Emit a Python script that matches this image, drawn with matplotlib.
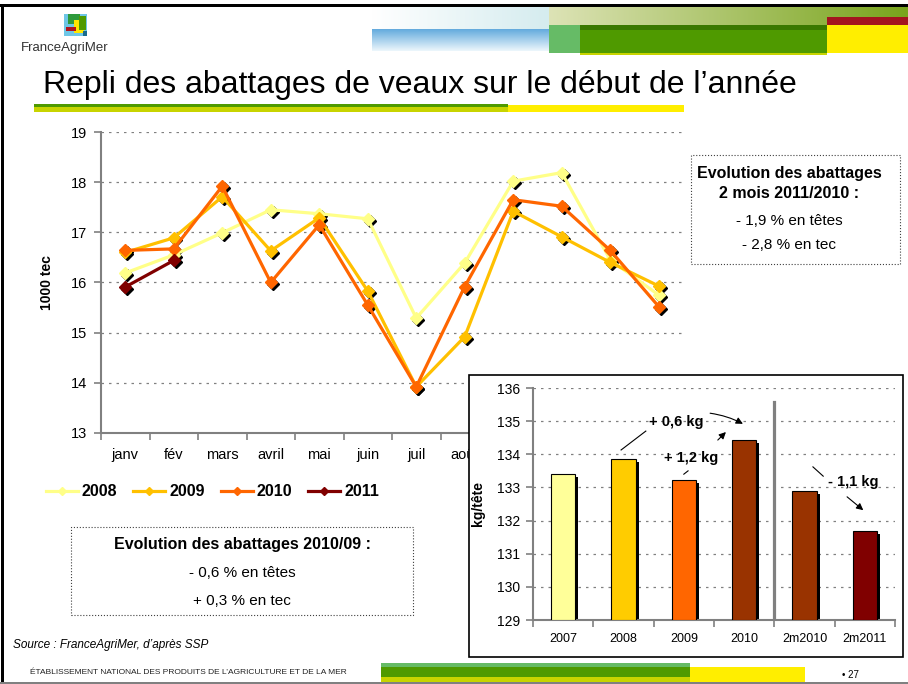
import numpy as np
import matplotlib
matplotlib.use('Agg')
import matplotlib.pyplot as plt
from matplotlib.patches import Rectangle
from matplotlib.colors import LinearSegmentedColormap
from matplotlib.transforms import offset_copy

plt.rcParams['font.family'] = ['Liberation Sans', 'DejaVu Sans']

# données
mois = ['janv', 'fév', 'mars', 'avril', 'mai', 'juin', 'juil', 'août', 'sept', 'oct', 'nov', 'déc']
v2008 = [16.19, 16.55, 16.99, 17.45, 17.37, 17.27, 15.29, 16.39, 18.02, 18.19, 16.45, 15.75]
v2009 = [16.60, 16.89, 17.71, 16.63, 17.29, 15.83, 13.92, 14.92, 17.42, 16.91, 16.40, 15.93]
v2010 = [16.64, 16.67, 17.92, 16.00, 17.15, 15.55, 13.92, 15.92, 17.65, 17.52, 16.64, 15.52]
v2011 = [15.91, 16.44]
series = [('2008', v2008, '#FFFF88'), ('2009', v2009, '#FFC000'),
          ('2010', v2010, '#FF6600'), ('2011', v2011, '#800000')]

periodes = ['2007', '2008', '2009', '2010', '2m2010', '2m2011']
poids = [133.41, 133.86, 133.21, 134.43, 132.90, 131.69]
couleurs_barres = ['#FFFF99', '#FFCC00', '#FF6600', '#993300', '#993300', '#800000']

W, H = 908, 684
fig = plt.figure(figsize=(W / 100, H / 100), dpi=100)


def rect(x0, y0, x1, y1, color, z=1, **kw):
    fig.patches.append(Rectangle((x0 / W, 1 - y1 / H), (x1 - x0) / W, (y1 - y0) / H,
                                 transform=fig.transFigure, facecolor=color,
                                 edgecolor=kw.pop('ec', 'none'), zorder=z, **kw))


def grad(x0, y0, x1, y1, c0, c1, vertical=False):
    a = fig.add_axes([x0 / W, 1 - y1 / H, (x1 - x0) / W, (y1 - y0) / H])
    g = np.linspace(0, 1, 256)
    g = g[:, None] if vertical else g[None, :]
    a.imshow(g, aspect='auto', cmap=LinearSegmentedColormap.from_list('g', [c0, c1]))
    a.axis('off')


# cadre et bandeau
rect(0, 4, W, 7, 'black')
rect(1, 4, 4, H, 'black')
rect(0, 682, W, H, '#808080')
grad(372, 7, 549, 29, '#ffffff', '#d5ecef')
grad(372, 29, 549, 51, '#62aadd', '#eef7fc', vertical=True)
grad(549, 7, W, 25, '#dde3b6', '#78a41c')
rect(827, 17, W, 25, '#a3151f')
rect(549, 25, 580, 53, '#66bb66')
rect(580, 25, 827, 54, '#4f9a00')
rect(580, 25, 827, 30, '#3a7800')
rect(580, 53, 827, 55, '#c8d400')
rect(827, 25, W, 53, '#ffee00')

# logo
rect(64, 14, 87, 36, '#6ec6e6')
rect(68, 14, 80, 24, '#2e9a3c')
rect(74, 20, 84, 33, '#ffe600')
rect(66, 27, 76, 31, '#b0141e')
rect(79, 16, 86, 30, '#4f9a00')
rect(83, 31, 87, 36, '#1a6b8c')
fig.text(21 / W, 1 - 48 / H, 'FranceAgriMer', fontsize=9.5, color='#333333', va='center')

# titre
fig.text(43 / W, 1 - 85 / H, 'Repli des abattages de veaux sur le début de l\u2019année',
         fontsize=23, va='center')
rect(34, 104, 508, 107, '#4f9a00')
rect(34, 107, 508, 112, '#c8d400')
rect(508, 105, 684, 112, '#ffee00')

# graphique principal
ax = fig.add_axes([101 / W, 1 - 433 / H, 582 / W, 301 / H])
x = np.arange(len(mois))
ombre = offset_copy(ax.transData, fig=fig, x=2, y=-2, units='dots')
courbes = []
for nom, vals, col in series:
    xs = x[:len(vals)]
    ax.plot(xs, vals, ls='none', marker='D', ms=6, color='black', transform=ombre, zorder=3)
    ln, = ax.plot(xs, vals, color=col, lw=2.3, marker='D', ms=6, mec=col, label=nom, zorder=4)
    courbes.append(ln)

ax.set_xlim(-0.5, 11.5)
ax.set_ylim(13, 19)
ax.set_yticks(range(13, 20))
ax.set_xticks(x)
ax.set_xticklabels(mois)
# les mois de sept à déc sont masqués par l'encart
for lab in ax.get_xticklabels()[8:]:
    lab.set_visible(False)
ax.set_xticks(np.arange(-0.5, 12), minor=True)
ax.tick_params(axis='x', which='major', length=0, pad=11, labelsize=10.5)
ax.tick_params(axis='x', which='minor', length=5, color='#808080', width=1.2)
ax.tick_params(axis='y', length=5, color='#808080', width=1.2, pad=5, labelsize=10.5)
for y in range(14, 20):
    ax.axhline(y, color='#808080', lw=0.9, ls=(0, (2, 4)), zorder=1)
for s in ['top', 'right']:
    ax.spines[s].set_visible(False)
for s in ['left', 'bottom']:
    ax.spines[s].set_color('#808080')
    ax.spines[s].set_linewidth(1.5)
ax.set_ylabel('1000 tec', fontsize=10, fontweight='bold')
ax.yaxis.set_label_coords((54 - 101) / 582, 0.5)

fig.legend(handles=courbes, loc='center left',
           bbox_to_anchor=(46 / W, 1 - 492 / H), ncol=4, frameon=False,
           prop={'weight': 'bold', 'size': 11.5}, handlelength=2.0,
           handletextpad=0.25, columnspacing=1.0, borderpad=0, borderaxespad=0,
           markerscale=0.7)

# encadrés texte
rect(71, 527, 413, 615, 'none', z=3, ec='#404040', lw=0.8, ls=':')
fig.text(242 / W, 1 - 544 / H, 'Evolution des abattages 2010/09 :', fontsize=11.5,
         fontweight='bold', ha='center', va='center')
fig.text(242 / W, 1 - 573 / H, '- 0,6 % en têtes', fontsize=11, ha='center', va='center')
fig.text(242 / W, 1 - 601 / H, '+ 0,3 % en tec', fontsize=11, ha='center', va='center')

rect(691, 155, 900, 264, 'none', z=3, ec='#404040', lw=0.8, ls=':')
fig.text(789 / W, 1 - 173 / H, 'Evolution des abattages', fontsize=11.5,
         fontweight='bold', ha='center', va='center')
fig.text(789 / W, 1 - 193 / H, '2 mois 2011/2010 :', fontsize=11.5,
         fontweight='bold', ha='center', va='center')
fig.text(789 / W, 1 - 221 / H, '- 1,9 % en têtes', fontsize=11, ha='center', va='center')
fig.text(789 / W, 1 - 245 / H, '- 2,8 % en tec', fontsize=11, ha='center', va='center')

fig.text(13 / W, 1 - 645 / H, 'Source : FranceAgriMer, d\u2019après SSP', fontsize=8.5,
         style='italic', va='center')

# encart poids moyen
rect(469, 375, 903, 657, 'white', z=1.5, ec='black', lw=1.2)
ai = fig.add_axes([533 / W, 1 - 620 / H, 362 / W, 232 / H], zorder=2)
ai.patch.set_alpha(0)
xb = np.arange(len(periodes))
ombre_b = offset_copy(ai.transData, fig=fig, x=3, y=-3, units='dots')
ai.bar(xb, np.array(poids) - 129, bottom=129, width=0.4, color='black',
       transform=ombre_b, zorder=2)
ai.bar(xb, np.array(poids) - 129, bottom=129, width=0.4, color=couleurs_barres,
       edgecolor='black', lw=0.8, zorder=3)
ai.set_xlim(-0.5, 5.5)
ai.set_ylim(129, 136)
ai.set_yticks(range(129, 137))
ai.set_xticks(xb)
ai.set_xticklabels(periodes)
ai.set_xticks(np.arange(-0.5, 6), minor=True)
ai.tick_params(axis='x', which='major', length=0, pad=9, labelsize=9)
ai.tick_params(axis='x', which='minor', length=5, color='#808080', width=1.2)
ai.tick_params(axis='y', length=5, color='#808080', width=1.2, pad=4, labelsize=10)
for y in range(130, 137):
    ai.axhline(y, color='#808080', lw=0.9, ls=(0, (2, 4)), zorder=1)
ai.axvline(3.5, ymax=(135.58 - 129) / 7, color='#808080', lw=2.3, zorder=1)
for s in ['top', 'right']:
    ai.spines[s].set_visible(False)
for s in ['left', 'bottom']:
    ai.spines[s].set_color('#808080')
    ai.spines[s].set_linewidth(1.5)
ai.set_ylabel('kg/tête', fontsize=10, fontweight='bold')
ai.yaxis.set_label_coords((485 - 533) / 362, 0.5)

fk = dict(fontsize=10.5, fontweight='bold', ha='center', va='center')
ai.text(1.87, 134.97, '+ 0,6 kg', **fk)
ai.text(2.12, 133.89, '+ 1,2 kg', **fk)
ai.text(4.81, 133.16, '- 1,1 kg', **fk)
ai.plot([0.96, 1.37], [134.13, 134.70], color='black', lw=0.8)
ai.plot([2.00, 2.07], [133.40, 133.50], color='black', lw=0.8)
ai.plot([4.14, 4.31], [133.62, 133.34], color='black', lw=0.8)
fl = dict(arrowstyle='-|>', color='black', lw=0.8, mutation_scale=10)
ai.annotate('', xy=(3.02, 134.88), xytext=(2.39, 135.25),
            arrowprops=dict(connectionstyle='arc3,rad=-0.1', **fl))
ai.annotate('', xy=(2.73, 134.73), xytext=(2.53, 134.37), arrowprops=fl)
ai.annotate('', xy=(5.01, 132.26), xytext=(4.67, 132.77), arrowprops=fl)

# pied de page
fig.text(30 / W, 1 - 672 / H, 'ÉTABLISSEMENT NATIONAL DES PRODUITS DE L\u2019AGRICULTURE ET DE LA MER',
         fontsize=6, va='center', color='#222222')
rect(381, 663, 690, 667, '#66bb66')
rect(381, 667, 690, 677, '#4f9a00')
rect(381, 677, 690, 682, '#c8d400')
rect(690, 667, 805, 682, '#ffee00')
fig.text(850 / W, 1 - 675 / H, '\u2022 27', fontsize=7, ha='center', va='center')

fig.savefig('out.png', dpi=100)
